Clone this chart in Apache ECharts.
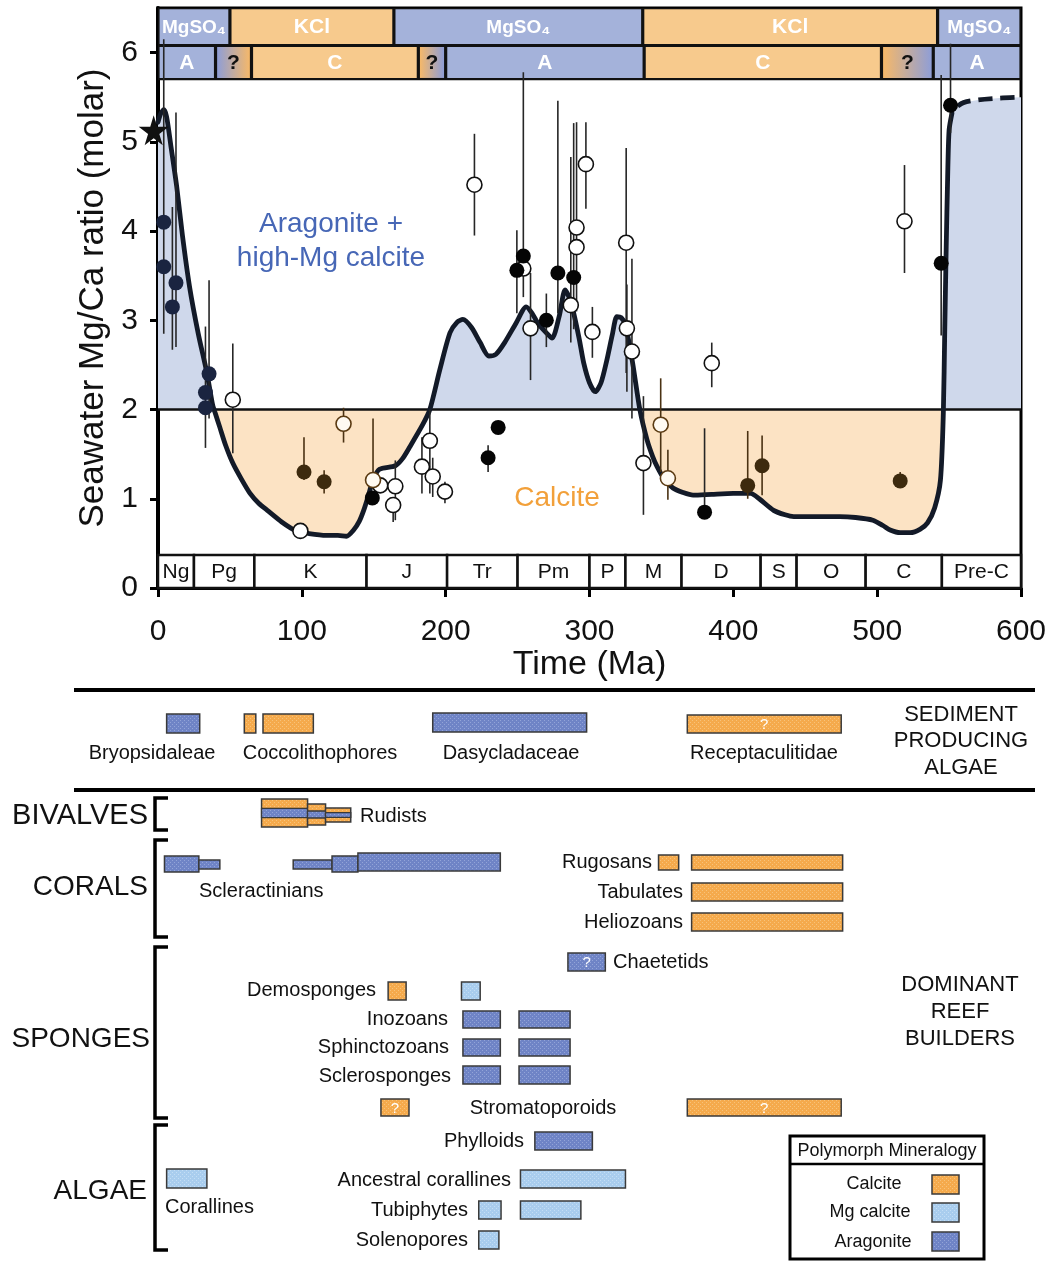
<!DOCTYPE html>
<html>
<head>
<meta charset="utf-8">
<script src="https://cdn.jsdelivr.net/npm/echarts@6/dist/echarts.min.js"></script>
<style>
  html, body { margin: 0; padding: 0; background: #fff; }
  #chart { width: 1055px; height: 1261px; }
</style>
</head>
<body>
<div id="chart"></div>
<script>
// ---------- data ----------
// Seawater Mg/Ca (molar) model curve: [age Ma, ratio]
const mgcaCurve = [
  [0, 5.22], [2, 5.32], [4, 5.36], [6, 5.28], [9, 4.95], [13, 4.5], [17, 3.95], [22, 3.37], [28, 2.85],
  [34, 2.41], [38, 2.05], [40, 1.95], [43, 1.80], [47, 1.6], [52, 1.40], [58, 1.22], [64, 1.06], [70, 0.95],
  [76, 0.87], [86, 0.74], [96, 0.64], [105, 0.61], [117, 0.59], [125, 0.59], [131, 0.58], [136, 0.65],
  [140, 0.75], [143, 0.87], [146, 1.02], [149.5, 1.21], [154, 1.33], [165, 1.37], [170, 1.45], [175, 1.58],
  [184, 1.83], [189, 2.0], [196, 2.45], [203, 2.86], [208, 2.98], [212, 3.01], [218, 2.92], [224, 2.75],
  [230, 2.60], [235, 2.62], [241, 2.75], [249, 2.97], [256, 3.15], [260, 3.08], [264, 2.97], [270, 2.86],
  [274, 2.80], [279, 3.05], [283, 3.34], [286, 3.25], [289, 3.08], [293, 2.78], [296, 2.52], [300, 2.30],
  [304, 2.20], [308, 2.30], [312, 2.55], [316, 2.85], [319, 3.04], [322, 3.03], [325, 2.95], [330, 2.52],
  [335, 2.0], [340, 1.66], [344, 1.47], [347, 1.36], [352, 1.22], [358, 1.12], [365, 1.07], [372, 1.04],
  [385, 1.05], [400, 1.06], [412, 1.06], [418, 1.0], [428, 0.87], [436, 0.82], [442, 0.80], [458, 0.80],
  [474, 0.80], [485, 0.79], [497, 0.76], [504, 0.70], [509, 0.65], [516, 0.62], [523, 0.62], [530, 0.66],
  [535, 0.73], [540, 0.90], [544, 1.21], [546, 1.96], [547, 2.9], [548, 3.82], [549, 4.6], [550, 5.13], [552, 5.32]
];
// Precambrian extrapolation (dashed)
const mgcaExtrapolated = [[552, 5.32], [556, 5.40], [560, 5.44], [570, 5.47], [585, 5.49], [600, 5.50]];

// Fluid-inclusion / proxy estimates: [age Ma, ratio, error low, error high]
const navyPoints = [[4, 4.10, 2.85, 6.15], [4, 3.60], [10, 3.15, 2.67, 4.27], [12.5, 3.42, 2.7, 5.33],
  [33, 2.19, 1.57, 2.93], [33, 2.02], [35.5, 2.40, 1.9, 3.45]];
const blackPoints = [[149, 1.01], [229.5, 1.46, 1.3, 1.6], [236.5, 1.80], [249.5, 3.56, 3.08, 4.01],
  [254, 3.72, 3.26, 5.78], [270, 3.0, 2.70, 3.30], [278, 3.53, 3.08, 5.46], [289, 3.48, 2.9, 5.21],
  [380, 0.85, 0.85, 1.79], [544.5, 3.64, 2.83, 5.75], [551, 5.41, 5.1, 6.1]];
const brownPoints = [[101.5, 1.30, 1.21, 1.69], [115.5, 1.19, 1.06, 1.32], [410, 1.15, 1.0, 1.76],
  [420, 1.37, 1.04, 1.71], [516, 1.20, 1.12, 1.30]];
const openPoints = [[52, 2.11, 1.51, 2.74], [99, 0.64], [154.5, 1.15], [165, 1.14, 0.76, 1.43],
  [163.5, 0.93, 0.74, 1.0], [183.5, 1.36, 1.06, 1.69], [189, 1.65, 1.06, 2.0], [191, 1.25, 1.02, 1.46],
  [199.5, 1.08, 0.95, 1.19], [220, 4.52, 3.95, 5.09], [254, 3.58], [259, 2.91, 2.33, 3.53],
  [287, 3.17, 2.75, 4.83], [291, 4.04, 3.1, 5.22], [291, 3.82], [297.5, 4.75, 4.25, 5.22],
  [302, 2.87, 2.58, 3.15], [325.5, 3.87, 2.41, 4.93], [326, 2.91, 2.2, 3.4], [329.5, 2.65, 1.9, 3.69],
  [337.5, 1.40, 0.82, 2.15], [385, 2.52, 2.25, 2.75], [519, 4.11, 3.53, 4.74]];
const openBrownPoints = [[129, 1.84, 1.63, 2.02], [149.5, 1.21, 1.21, 1.9], [349.5, 1.83, 1.3, 2.35],
  [354.5, 1.23, 0.99, 1.55]];
const modernSeawater = [[-3, 5.13]];

// Evaporite mineralogy and non-skeletal carbonate mineralogy: [label, from Ma, to Ma, kind]
const evaporiteBands = [['MgSO4', 0, 50, 'A'], ['KCl', 50, 164, 'C'], ['MgSO4', 164, 337, 'A'],
  ['KCl', 337, 542, 'C'], ['MgSO4', 542, 600, 'A']];
const seaBands = [['A', 0, 40, 'A'], ['?', 40, 65, 'AC'], ['C', 65, 181, 'C'], ['?', 181, 200, 'CA'],
  ['A', 200, 338, 'A'], ['C', 338, 503, 'C'], ['?', 503, 539, 'CA'], ['A', 539, 600, 'A']];
// Geologic periods: [abbreviation, from Ma, to Ma]
const periods = [['Ng', 0, 25], ['Pg', 25, 67], ['K', 67, 145], ['J', 145, 201], ['Tr', 201, 250],
  ['Pm', 250, 300], ['P', 300, 325], ['M', 325, 364], ['D', 364, 419], ['S', 419, 444], ['O', 444, 492],
  ['C', 492, 545], ['Pre-C', 545, 600]];
const ageTicks = [0, 100, 200, 300, 400, 500, 600];
const ratioTicks = [0, 1, 2, 3, 4, 5, 6];
const aragoniteThreshold = 2;

// Stratigraphic ranges: [taxon, from Ma, to Ma, mineralogy (C calcite, M Mg calcite, A aragonite), uncertain]
const sedimentAlgae = [['Bryopsidaleae', 6, 29, 'A'], ['Coccolithophores', 60, 68, 'C'],
  ['Coccolithophores', 73, 108, 'C'], ['Dasycladaceae', 191, 298, 'A'], ['Receptaculitidae', 368, 475, 'C', true]];
const bivalves = [['Rudists', 72, 104, 'CAC'], ['Rudists', 104, 116.5, 'CAC'], ['Rudists', 116.5, 134, 'CAC']];
const corals = [['Scleractinians', 4.5, 28.4, 'A'], ['Scleractinians', 28.4, 43, 'A'], ['Scleractinians', 94, 121, 'A'],
  ['Scleractinians', 121, 139, 'A'], ['Scleractinians', 139, 238, 'A'], ['Rugosans', 348, 362, 'C'],
  ['Rugosans', 371, 476, 'C'], ['Tabulates', 371, 476, 'C'], ['Heliozoans', 371, 476, 'C']];
const sponges = [['Chaetetids', 285, 311, 'A', true], ['Demosponges', 160, 172.5, 'C'], ['Demosponges', 211, 224, 'M'],
  ['Inozoans', 212, 238, 'A'], ['Inozoans', 251, 286.5, 'A'], ['Sphinctozoans', 212, 238, 'A'],
  ['Sphinctozoans', 251, 286.5, 'A'], ['Sclerosponges', 212, 238, 'A'], ['Sclerosponges', 251, 286.5, 'A'],
  ['Stromatoporoids', 155, 174.5, 'C', true], ['Stromatoporoids', 368, 475, 'C', true]];
const reefAlgae = [['Phylloids', 262, 302, 'A'], ['Corallines', 6, 34, 'M'], ['Ancestral corallines', 252, 325, 'M'],
  ['Tubiphytes', 223, 238.5, 'M'], ['Tubiphytes', 252, 294, 'M'], ['Solenopores', 223, 237, 'M']];

// ---------- layout & style ----------
const FONT = '"Liberation Sans", Arial, Helvetica, sans-serif';
const BLUE_FILL = '#cfd8eb', ORANGE_FILL = '#fce3c4';
const BAND_BLUE = '#a4b2da', BAND_ORANGE = '#f7ca8d';
const MIN_COLOR = { C: '#f5aa4c', M: '#a9cdee', A: '#6f84c6' };
const MIN_DOT = { C: '#f8c37a', M: '#c4def5', A: '#93a4d8' };
const BAR_STROKE = '#3a3a3a';

// fine stipple texture used on the range bars
function stipple(kind) {
  const c = document.createElement('canvas');
  c.width = 4; c.height = 4;
  const g = c.getContext('2d');
  g.fillStyle = MIN_COLOR[kind]; g.fillRect(0, 0, 4, 4);
  g.fillStyle = MIN_DOT[kind]; g.fillRect(0, 0, 1, 1); g.fillRect(2, 2, 1, 1);
  return { image: c, repeat: 'repeat' };
}
const MIN_PATTERN = { C: stipple('C'), M: stipple('M'), A: stipple('A') };

// vertical placement of range bars (page pixels)
const rowBox = {
  Bryopsidaleae: [714, 733], Coccolithophores: [714, 733], Dasycladaceae: [713, 732], Receptaculitidae: [715, 733],
  Rudists: [[799, 827], [804, 825], [808, 822]],
  Scleractinians: [[856, 872], [860, 869], [860, 869], [856, 872], [853, 871]],
  Rugosans: [855, 870], Tabulates: [883, 901], Heliozoans: [913, 931],
  Chaetetids: [953, 971], Demosponges: [982, 1000], Inozoans: [1011, 1028], Sphinctozoans: [1039, 1056],
  Sclerosponges: [1066, 1084], Stromatoporoids: [1099, 1116],
  Phylloids: [1132, 1150], Corallines: [1169, 1188], 'Ancestral corallines': [1170, 1188],
  Tubiphytes: [1201, 1219], Solenopores: [1231, 1249]
};

const taxonSegs = [];
(function () {
  const seen = {};
  [sedimentAlgae, bivalves, corals, sponges, reefAlgae].forEach(group => group.forEach(r => {
    const k = r[0];
    const idx = seen[k] = (seen[k] === undefined ? 0 : seen[k] + 1);
    const box = Array.isArray(rowBox[k][0]) ? rowBox[k][idx] : rowBox[k];
    taxonSegs.push({ name: k, from: r[1], to: r[2], min: r[3], q: !!r[4], top: box[0], bottom: box[1] });
  }));
})();

// ---------- render helpers ----------
function fillItem(params, api) {
  const pts = mgcaCurve.concat(mgcaExtrapolated.slice(1));
  const seq = [];
  for (let i = 0; i < pts.length; i++) {
    seq.push(pts[i]);
    if (i < pts.length - 1) {
      const a = pts[i][1] - aragoniteThreshold, b = pts[i + 1][1] - aragoniteThreshold;
      if (a * b < 0) {
        const t = a / (a - b);
        seq.push([pts[i][0] + t * (pts[i + 1][0] - pts[i][0]), aragoniteThreshold]);
      }
    }
  }
  const x0 = seq[0][0], x1 = seq[seq.length - 1][0];
  const up = [[x0, aragoniteThreshold]].concat(seq.map(p => [p[0], Math.max(p[1], aragoniteThreshold)]), [[x1, aragoniteThreshold]]);
  const dn = [[x0, aragoniteThreshold]].concat(seq.map(p => [p[0], Math.min(p[1], aragoniteThreshold)]), [[x1, aragoniteThreshold]]);
  return {
    type: 'group',
    children: [
      { type: 'polygon', shape: { points: up.map(p => api.coord(p)) }, style: { fill: BLUE_FILL } },
      { type: 'polygon', shape: { points: dn.map(p => api.coord(p)) }, style: { fill: ORANGE_FILL } }
    ]
  };
}

const bandCells = evaporiteBands.map(b => ({ row: 0, label: b[0], from: b[1], to: b[2], kind: b[3] }))
  .concat(seaBands.map(b => ({ row: 1, label: b[0], from: b[1], to: b[2], kind: b[3] })));
const BAND_ROWS = [[6.097, 6.486], [5.716, 6.063]];

function bandFill(kind) {
  if (kind === 'A') return BAND_BLUE;
  if (kind === 'C') return BAND_ORANGE;
  const c = kind === 'AC' ? ['#8f9ed6', '#f5b86a'] : ['#f5b86a', '#8f9ed6'];
  return new echarts.graphic.LinearGradient(0, 0, 1, 0, [{ offset: 0, color: c[0] }, { offset: 1, color: c[1] }]);
}

function bandItem(params, api) {
  const b = bandCells[params.dataIndex];
  const yr = BAND_ROWS[b.row];
  const p0 = api.coord([b.from, yr[1]]), p1 = api.coord([b.to, yr[0]]);
  const x = p0[0] + 1.6, w = p1[0] - p0[0] - 3.2, y = p0[1], h = p1[1] - p0[1];
  const children = [];
  if (params.dataIndex === 0) {
    const f0 = api.coord([0, 6.5]), f1 = api.coord([600, 5.69]);
    children.push({ type: 'rect', shape: { x: f0[0], y: f0[1], width: f1[0] - f0[0], height: f1[1] - f0[1] }, style: { fill: '#111' } });
  }
  children.push({ type: 'rect', shape: { x, y, width: w, height: h }, style: { fill: bandFill(b.kind) } });
  const isQ = b.label === '?';
  const txt = b.label === 'MgSO4' ? 'MgSO\u2084' : b.label;
  children.push({
    type: 'text',
    style: {
      text: txt, x: x + w / 2, y: y + h / 2 + 1, align: 'center', verticalAlign: 'middle',
      fill: isQ ? '#111' : '#fff', font: 'bold ' + (b.label === 'MgSO4' ? 19 : 21) + 'px ' + FONT
    }
  });
  return { type: 'group', children };
}

function periodItem(params, api) {
  const p = periods[params.dataIndex];
  const a = api.coord([p[1], 0.37]), b = api.coord([p[2], 0]);
  const w = b[0] - a[0], h = b[1] - a[1];
  return {
    type: 'group',
    children: [
      { type: 'rect', shape: { x: a[0], y: a[1], width: w, height: h }, style: { fill: '#fff', stroke: '#111', lineWidth: 2.5 } },
      { type: 'text', style: { text: p[0], x: a[0] + w / 2, y: a[1] + h / 2 + 1, align: 'center', verticalAlign: 'middle', fill: '#111', font: '21px ' + FONT } }
    ]
  };
}

const errorBars = [];
[[navyPoints, 0], [blackPoints, 0], [openPoints, 0], [brownPoints, 1], [openBrownPoints, 1]].forEach(([arr, tone]) => {
  arr.forEach(p => { if (p.length >= 4) errorBars.push([p[0], p[2], p[3], tone]); });
});

function errorItem(params, api) {
  const p0 = api.coord([api.value(0), api.value(1)]);
  const p1 = api.coord([api.value(0), api.value(2)]);
  return {
    type: 'line',
    shape: { x1: p0[0], y1: p0[1], x2: p1[0], y2: p1[1] },
    style: { stroke: api.value(3) === 1 ? '#4a3213' : '#262626', lineWidth: 1.6 }
  };
}

function taxonItem(params, api) {
  const s = taxonSegs[params.dataIndex];
  const a = api.coord([s.from, s.top]), b = api.coord([s.to, s.bottom]);
  const x = a[0], y = a[1], w = b[0] - a[0], h = b[1] - a[1];
  const children = [];
  if (s.min === 'CAC') {
    children.push({ type: 'rect', shape: { x, y, width: w, height: h }, style: { fill: MIN_PATTERN.C, stroke: BAR_STROKE, lineWidth: 1.5 } });
    const t = h / 3;
    children.push({ type: 'rect', shape: { x, y: y + t, width: w, height: t }, style: { fill: MIN_PATTERN.A, stroke: BAR_STROKE, lineWidth: 1.3 } });
  } else {
    children.push({ type: 'rect', shape: { x, y, width: w, height: h }, style: { fill: MIN_PATTERN[s.min], stroke: BAR_STROKE, lineWidth: 1.5 } });
  }
  if (s.q) {
    children.push({ type: 'text', style: { text: '?', x: x + w / 2, y: y + h / 2 + 1, align: 'center', verticalAlign: 'middle', fill: '#fff', font: '15px ' + FONT } });
  }
  return { type: 'group', children };
}

// ---------- annotations ----------
const textItems = [
  ['Aragonite +', 331, 224, 'center', 28, '#4767b6'],
  ['high-Mg calcite', 331, 258, 'center', 28, '#4767b6'],
  ['Calcite', 557, 498, 'center', 28, '#f2a03a'],
  ['Bryopsidaleae', 152, 753, 'center', 20], ['Coccolithophores', 320, 753, 'center', 20],
  ['Dasycladaceae', 511, 753, 'center', 20], ['Receptaculitidae', 764, 753, 'center', 20],
  ['SEDIMENT', 961, 715, 'center', 22], ['PRODUCING', 961, 741, 'center', 22], ['ALGAE', 961, 768, 'center', 22],
  ['BIVALVES', 148, 816, 'right', 29], ['Rudists', 360, 816, 'left', 20],
  ['CORALS', 148, 887, 'right', 28], ['Scleractinians', 199, 891, 'left', 20],
  ['Rugosans', 652, 862, 'right', 20], ['Tabulates', 683, 892, 'right', 20], ['Heliozoans', 683, 922, 'right', 20],
  ['Chaetetids', 613, 962, 'left', 20], ['Demosponges', 376, 990, 'right', 20],
  ['SPONGES', 150, 1039, 'right', 28], ['Inozoans', 448, 1019, 'right', 20], ['Sphinctozoans', 449, 1047, 'right', 20],
  ['Sclerosponges', 451, 1076, 'right', 20], ['Stromatoporoids', 543, 1108, 'center', 20],
  ['DOMINANT', 960, 985, 'center', 22], ['REEF', 960, 1012, 'center', 22], ['BUILDERS', 960, 1039, 'center', 22],
  ['Phylloids', 524, 1141, 'right', 20], ['ALGAE', 147, 1191, 'right', 28], ['Corallines', 165, 1207, 'left', 20],
  ['Ancestral corallines', 511, 1180, 'right', 20], ['Tubiphytes', 468, 1210, 'right', 20],
  ['Solenopores', 468, 1240, 'right', 20],
  ['Polymorph Mineralogy', 887, 1151, 'center', 18], ['Calcite', 874, 1184, 'center', 18],
  ['Mg calcite', 870, 1212, 'center', 18], ['Aragonite', 873, 1242, 'center', 18]
];

const graphics = [];
textItems.forEach(t => graphics.push({
  type: 'text', x: t[1], y: t[2], z: 50,
  style: { text: t[0], align: t[3], verticalAlign: 'middle', textAlign: t[3], textVerticalAlign: 'middle', fill: t[5] || '#111', font: t[4] + 'px ' + FONT }
}));
[690, 790].forEach(y => graphics.push({ type: 'line', shape: { x1: 74, y1: y, x2: 1035, y2: y }, style: { stroke: '#000', lineWidth: 4 } }));
[[798, 830], [840, 937], [947, 1118], [1125, 1250]].forEach(([t, b]) => graphics.push({
  type: 'polyline', shape: { points: [[168, t], [155, t], [155, b], [168, b]] }, style: { stroke: '#000', lineWidth: 3.5, fill: null }
}));
graphics.push({ type: 'rect', shape: { x: 790, y: 1136, width: 194, height: 123 }, style: { fill: '#fff', stroke: '#000', lineWidth: 3 } });
graphics.push({ type: 'line', shape: { x1: 790, y1: 1164, x2: 984, y2: 1164 }, style: { stroke: '#000', lineWidth: 2.5 } });
[['C', 1175], ['M', 1203], ['A', 1232]].forEach(([k, y]) => graphics.push({
  type: 'rect', z: 51, shape: { x: 932, y, width: 27, height: 19 }, style: { fill: MIN_PATTERN[k], stroke: BAR_STROKE, lineWidth: 1.5 }
}));

// ---------- chart ----------
const chart = echarts.init(document.getElementById('chart'));
const toXY = arr => arr.map(p => [p[0], p[1]]);

chart.setOption({
  animation: false,
  backgroundColor: '#fff',
  grid: [
    { left: 158, width: 863, top: 8, height: 580, show: true, borderColor: '#000', borderWidth: 3, backgroundColor: 'transparent' },
    { left: 158, width: 863, top: 0, height: 1261 }
  ],
  xAxis: [
    {
      gridIndex: 0, type: 'value', min: 0, max: 600, interval: 100,
      name: 'Time (Ma)', nameLocation: 'middle', nameGap: 60,
      nameTextStyle: { fontSize: 34, color: '#111', fontFamily: FONT },
      axisLine: { onZero: false, lineStyle: { color: '#000', width: 3 } },
      axisTick: { length: 9, lineStyle: { color: '#000', width: 3 }, customValues: ageTicks },
      axisLabel: { fontSize: 30, color: '#111', fontFamily: FONT, margin: 29, customValues: ageTicks },
      splitLine: { show: false }
    },
    { gridIndex: 1, type: 'value', min: 0, max: 600, show: false }
  ],
  yAxis: [
    {
      gridIndex: 0, type: 'value', min: 0, max: 6.5, interval: 1,
      name: 'Seawater Mg/Ca ratio (molar)', nameLocation: 'middle', nameGap: 46, nameRotate: 90,
      nameTextStyle: { fontSize: 35, color: '#111', fontFamily: FONT },
      axisLine: { onZero: false, lineStyle: { color: '#000', width: 4 } },
      axisTick: { length: 8, lineStyle: { color: '#000', width: 3 }, customValues: ratioTicks },
      axisLabel: { fontSize: 30, color: '#111', fontFamily: FONT, margin: 20, customValues: ratioTicks },
      splitLine: { show: false }
    },
    { gridIndex: 1, type: 'value', min: 0, max: 1261, inverse: true, show: false }
  ],
  graphic: graphics,
  series: [
    {
      type: 'custom', name: 'fill', xAxisIndex: 0, yAxisIndex: 0, z: 1, silent: true,
      renderItem: fillItem, data: [[0, 0]], encode: { x: 0, y: 1 }
    },
    {
      type: 'line', name: 'threshold', xAxisIndex: 0, yAxisIndex: 0, z: 2, silent: true, symbol: 'none',
      data: [[0, aragoniteThreshold], [600, aragoniteThreshold]], lineStyle: { color: '#111', width: 2.5 }
    },
    {
      type: 'line', name: 'Mg/Ca', xAxisIndex: 0, yAxisIndex: 0, z: 3, silent: true, symbol: 'none', smooth: 0.25,
      data: mgcaCurve, lineStyle: { color: '#131a28', width: 4.8, cap: 'round', join: 'round' }
    },
    {
      type: 'line', name: 'extrapolated', xAxisIndex: 0, yAxisIndex: 0, z: 3, silent: true, symbol: 'none', smooth: 0.3,
      data: mgcaExtrapolated.slice(1), lineStyle: { color: '#131a28', width: 4.8, type: [14, 8] }
    },
    {
      type: 'custom', name: 'bands', xAxisIndex: 0, yAxisIndex: 0, z: 4, silent: true,
      renderItem: bandItem, data: bandCells.map(b => [b.from, b.to, BAND_ROWS[b.row][0], BAND_ROWS[b.row][1]]),
      encode: { x: [0, 1], y: [2, 3] }
    },
    {
      type: 'custom', name: 'periods', xAxisIndex: 0, yAxisIndex: 0, z: 4, silent: true,
      renderItem: periodItem, data: periods.map(p => [p[1], p[2], 0, 0.37]), encode: { x: [0, 1], y: [2, 3] }
    },
    {
      type: 'custom', name: 'errors', xAxisIndex: 0, yAxisIndex: 0, z: 5, silent: true, clip: false,
      renderItem: errorItem, data: errorBars, encode: { x: 0, y: [1, 2] }
    },
    {
      type: 'scatter', xAxisIndex: 0, yAxisIndex: 0, z: 6, silent: true, symbolSize: 15,
      data: toXY(navyPoints), itemStyle: { color: '#1a2440', opacity: 1 }
    },
    {
      type: 'scatter', xAxisIndex: 0, yAxisIndex: 0, z: 6, silent: true, symbolSize: 15,
      data: toXY(openPoints), itemStyle: { color: '#fff', borderColor: '#111', borderWidth: 1.6, opacity: 1 }
    },
    {
      type: 'scatter', xAxisIndex: 0, yAxisIndex: 0, z: 6, silent: true, symbolSize: 15,
      data: toXY(blackPoints), itemStyle: { color: '#050505', opacity: 1 }
    },
    {
      type: 'scatter', xAxisIndex: 0, yAxisIndex: 0, z: 6, silent: true, symbolSize: 15,
      data: toXY(brownPoints), itemStyle: { color: '#3d2a0e', opacity: 1 }
    },
    {
      type: 'scatter', xAxisIndex: 0, yAxisIndex: 0, z: 6, silent: true, symbolSize: 15,
      data: toXY(openBrownPoints), itemStyle: { color: '#fffaf2', borderColor: '#5a3a12', borderWidth: 1.6, opacity: 1 }
    },
    {
      type: 'scatter', xAxisIndex: 0, yAxisIndex: 0, z: 7, silent: true, clip: false, symbolSize: 30,
      symbol: 'path://M50,0 L61,35 L98,35 L68,57 L79,91 L50,70 L21,91 L32,57 L2,35 L39,35 Z',
      data: modernSeawater, itemStyle: { color: '#111', opacity: 1 }
    },
    {
      type: 'custom', name: 'ranges', xAxisIndex: 1, yAxisIndex: 1, z: 5, silent: true, clip: false,
      renderItem: taxonItem, data: taxonSegs.map(s => [s.from, s.to, s.top, s.bottom]), encode: { x: [0, 1], y: [2, 3] }
    }
  ]
});
</script>
</body>
</html>
